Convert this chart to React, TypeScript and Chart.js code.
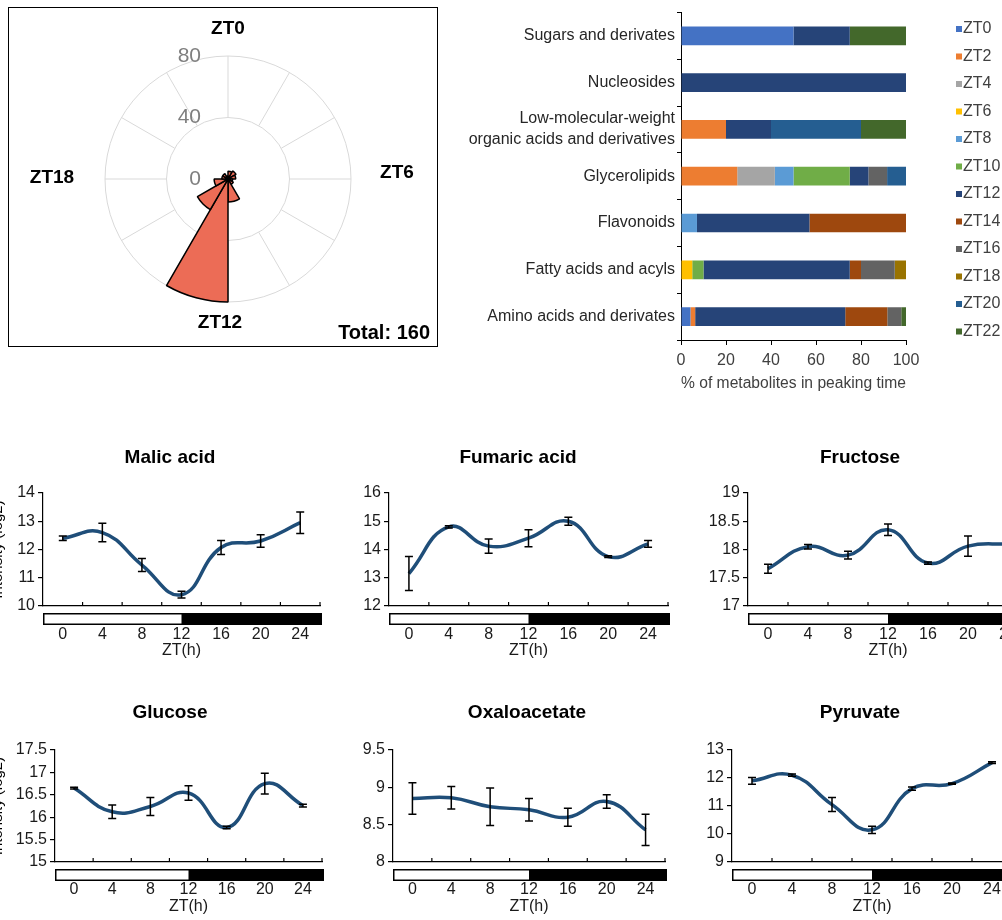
import React, { useEffect, useRef } from "react";
import { Chart, registerables } from "chart.js";

Chart.register(...registerables);

const FONT = "'Liberation Sans', Arial, Helvetica, sans-serif";

// ---------- Polar: number of metabolites peaking at each time ----------
const peakLabels = ["ZT0", "ZT2", "ZT4", "ZT6", "ZT8", "ZT10", "ZT12", "ZT14", "ZT16", "ZT18", "ZT20", "ZT22"];
const peakCounts = [5, 6, 5, 3, 4, 15, 80, 23, 9, 4, 4, 2];
const ringTicks = [0, 40, 80];
const compassLabels = ["ZT0", "ZT6", "ZT12", "ZT18"];
const totalLabel = "Total: 160";

// ---------- Stacked bars: % of metabolites per class in peaking time ----------
const classLabels: (string | string[])[] = [
  "Sugars and derivates",
  "Nucleosides",
  ["Low-molecular-weight", "organic acids and derivatives"],
  "Glycerolipids",
  "Flavonoids",
  "Fatty acids and acyls",
  "Amino acids and derivates",
];
const ztColors = ["#4472C4", "#ED7D31", "#A5A5A5", "#FFC000", "#5B9BD5", "#70AD47", "#264478", "#9E480E", "#636363", "#997300", "#255E91", "#43682B"];
const pctZT0 = [50, 0, 0, 0, 0, 0, 4.2];
const pctZT2 = [0, 0, 20, 25, 0, 0, 2.1];
const pctZT4 = [0, 0, 0, 16.7, 0, 0, 0];
const pctZT6 = [0, 0, 0, 0, 0, 5, 0];
const pctZT8 = [0, 0, 0, 8.3, 7.1, 0, 0];
const pctZT10 = [0, 0, 0, 25, 0, 5, 0];
const pctZT12 = [25, 100, 20, 8.3, 50, 65, 66.7];
const pctZT14 = [0, 0, 0, 0, 42.9, 5, 18.7];
const pctZT16 = [0, 0, 0, 8.3, 0, 15, 6.2];
const pctZT18 = [0, 0, 0, 0, 0, 5, 0];
const pctZT20 = [0, 0, 40, 8.4, 0, 0, 0];
const pctZT22 = [25, 0, 20, 0, 0, 0, 2.1];
const classPctSeries = [pctZT0, pctZT2, pctZT4, pctZT6, pctZT8, pctZT10, pctZT12, pctZT14, pctZT16, pctZT18, pctZT20, pctZT22];
const pctAxisTitle = "% of metabolites in peaking time";

// ---------- Time courses ----------
const ztHours = ["0", "4", "8", "12", "16", "20", "24"];
const malicMean = [12.4, 12.6, 11.45, 10.4, 12.07, 12.3, 12.95];
const malicErr = [0.08, 0.33, 0.23, 0.12, 0.25, 0.22, 0.38];
const fumaricMean = [13.15, 14.8, 14.12, 14.4, 15.0, 13.75, 14.2];
const fumaricErr = [0.6, 0.04, 0.25, 0.3, 0.14, 0.03, 0.12];
const fructoseMean = [17.66, 18.05, 17.9, 18.35, 17.76, 18.06, 18.1];
const fructoseErr = [0.08, 0.04, 0.07, 0.1, 0.02, 0.18, 0.05];
const glucoseMean = [16.65, 16.12, 16.24, 16.54, 15.77, 16.75, 16.26];
const glucoseErr = [0.02, 0.15, 0.2, 0.16, 0.03, 0.23, 0.03];
const oxaloMean = [8.85, 8.86, 8.74, 8.7, 8.6, 8.81, 8.43];
const oxaloErr = [0.21, 0.15, 0.25, 0.15, 0.12, 0.09, 0.21];
const pyruvateMean = [11.9, 12.1, 11.05, 10.15, 11.62, 11.8, 12.55];
const pyruvateErr = [0.12, 0.04, 0.25, 0.13, 0.06, 0.02, 0.03];
const intensityTitle = "Intensity (log2)";
const timeTitle = "ZT(h)";

type Panel = {
  title: string; mean: number[]; err: number[]; yMin: number; yMax: number; yStep: number;
  axisLeft: number; axisRight: number; plotTop: number; plotBottom: number;
  titleX: number; titleY: number; yW: number; yTitle: boolean; tickPad: number;
};

const panels: Panel[] = [
  { title: "Malic acid", mean: malicMean, err: malicErr, yMin: 10, yMax: 14, yStep: 1,
    axisLeft: 43, axisRight: 320, plotTop: 493, plotBottom: 606, titleX: 170, titleY: 458, yW: 57, yTitle: true, tickPad: 21 },
  { title: "Fumaric acid", mean: fumaricMean, err: fumaricErr, yMin: 12, yMax: 16, yStep: 1,
    axisLeft: 389, axisRight: 668, plotTop: 493, plotBottom: 606, titleX: 518, titleY: 458, yW: 40, yTitle: false, tickPad: 21 },
  { title: "Fructose", mean: fructoseMean, err: fructoseErr, yMin: 17, yMax: 19, yStep: 0.5,
    axisLeft: 748, axisRight: 1028, plotTop: 493, plotBottom: 606, titleX: 860, titleY: 458, yW: 44, yTitle: false, tickPad: 21 },
  { title: "Glucose", mean: glucoseMean, err: glucoseErr, yMin: 15, yMax: 17.5, yStep: 0.5,
    axisLeft: 55, axisRight: 322, plotTop: 750, plotBottom: 862, titleX: 170, titleY: 713, yW: 69, yTitle: true, tickPad: 20 },
  { title: "Oxaloacetate", mean: oxaloMean, err: oxaloErr, yMin: 8, yMax: 9.5, yStep: 0.5,
    axisLeft: 393, axisRight: 665, plotTop: 750, plotBottom: 862, titleX: 527, titleY: 713, yW: 40, yTitle: false, tickPad: 20 },
  { title: "Pyruvate", mean: pyruvateMean, err: pyruvateErr, yMin: 9, yMax: 13, yStep: 1,
    axisLeft: 732, axisRight: 1012, plotTop: 750, plotBottom: 862, titleX: 860, titleY: 713, yW: 30, yTitle: false, tickPad: 20 },
];

function ChartCanvas(props: { left: number; top: number; width: number; height: number; build: () => any }) {
  const ref = useRef<HTMLCanvasElement | null>(null);
  useEffect(() => {
    const chart = new Chart(ref.current as HTMLCanvasElement, props.build());
    return () => chart.destroy();
  }, []);
  return (
    <canvas
      ref={ref}
      width={props.width}
      height={props.height}
      style={{ position: "absolute", left: props.left, top: props.top, width: props.width, height: props.height }}
    />
  );
}

// ---------------- Polar ----------------
const POLAR_W = 428;
const POLAR_H = 338;

function buildPolar() {
  const decor = {
    id: "polarDecor",
    beforeDatasetsDraw(chart: any) {
      const s = chart.scales.r;
      const ctx = chart.ctx;
      const cx = s.xCenter, cy = s.yCenter;
      const r1 = s.getDistanceFromCenterForValue(ringTicks[1]);
      const r2 = s.getDistanceFromCenterForValue(ringTicks[2]);
      ctx.save();
      ctx.strokeStyle = "#d9d9d9";
      ctx.lineWidth = 1;
      for (let k = 0; k < peakLabels.length; k++) {
        const a = -Math.PI / 2 + (k * 2 * Math.PI) / peakLabels.length;
        ctx.beginPath();
        ctx.moveTo(cx + r1 * Math.cos(a), cy + r1 * Math.sin(a));
        ctx.lineTo(cx + r2 * Math.cos(a), cy + r2 * Math.sin(a));
        ctx.stroke();
      }
      ctx.restore();
    },
    afterDraw(chart: any) {
      const s = chart.scales.r;
      const ctx = chart.ctx;
      const cx = s.xCenter, cy = s.yCenter;
      ctx.save();
      ctx.font = `21px ${FONT}`;
      ctx.fillStyle = "#7f7f7f";
      ctx.textAlign = "right";
      ctx.textBaseline = "middle";
      ringTicks.forEach((v) => {
        const d = s.getDistanceFromCenterForValue(v);
        ctx.fillText(String(v), cx - 27, cy - d);
      });
      ctx.font = `bold 19px ${FONT}`;
      ctx.fillStyle = "#000";
      ctx.textAlign = "center";
      const offs = [[0, -150], [169, -6], [-8, 144], [-176, -1]];
      compassLabels.forEach((t, i) => ctx.fillText(t, cx + offs[i][0], cy + offs[i][1]));
      ctx.textAlign = "right";
      ctx.font = `bold 20px ${FONT}`;
      ctx.fillText(totalLabel, 421, 325);
      ctx.restore();
    },
  };
  return {
    type: "polarArea",
    data: {
      labels: peakLabels,
      datasets: [{ data: peakCounts, backgroundColor: "#EC6C56", borderColor: "#000", borderWidth: 1.5 }],
    },
    options: {
      responsive: false,
      animation: false,
      layout: { padding: { left: 96, top: 48, right: POLAR_W - 96 - 246, bottom: POLAR_H - 48 - 246 } },
      plugins: { legend: { display: false }, tooltip: { enabled: false } },
      scales: {
        r: {
          min: 0,
          max: 80,
          startAngle: 0,
          ticks: { display: false, stepSize: 40 },
          grid: { display: true, color: "#d9d9d9", lineWidth: 1, circular: true },
          angleLines: { display: false },
          pointLabels: { display: false },
        },
      },
    },
    plugins: [decor],
  };
}

// ---------------- Stacked bars ----------------
const BAR_LEFT = 462;
const BAR_W = 1002 - BAR_LEFT;
const BAR_H = 400;

function buildBars() {
  const legend = {
    id: "ztLegend",
    afterDraw(chart: any) {
      const ctx = chart.ctx;
      ctx.save();
      ctx.font = `16px ${FONT}`;
      ctx.textAlign = "left";
      ctx.textBaseline = "middle";
      peakLabels.forEach((name, i) => {
        const y = 29 + i * 27.5;
        ctx.fillStyle = ztColors[i];
        ctx.fillRect(956 - BAR_LEFT, y - 3, 6, 6);
        ctx.fillStyle = "#404040";
        ctx.fillText(name, 963 - BAR_LEFT, y);
      });
      ctx.restore();
    },
  };
  return {
    type: "bar",
    data: {
      labels: classLabels,
      datasets: peakLabels.map((name, i) => ({
        label: name,
        data: classPctSeries[i],
        backgroundColor: ztColors[i],
        borderWidth: 0,
        barPercentage: 0.4,
        categoryPercentage: 1,
      })),
    },
    options: {
      indexAxis: "y",
      responsive: false,
      animation: false,
      layout: { padding: { top: 4, right: 1002 - 906, left: 0, bottom: 0 } },
      plugins: { legend: { display: false }, tooltip: { enabled: false } },
      scales: {
        x: {
          stacked: true,
          min: 0,
          max: 100,
          ticks: { stepSize: 20, font: { family: FONT, size: 16 }, color: "#404040", padding: 6 },
          grid: { display: true, drawOnChartArea: false, tickLength: 5, color: "#000" },
          border: { display: true, color: "#000" },
          title: { display: true, text: pctAxisTitle, font: { family: FONT, size: 16 }, color: "#404040", padding: { top: 0, bottom: 7 } },
          afterFit: (s: any) => { s.height = 60; },
        },
        y: {
          stacked: true,
          ticks: { font: { family: FONT, size: 16, lineHeight: 1.3 }, color: "#262626", padding: 2 },
          grid: { display: true, drawOnChartArea: false, offset: true, tickLength: 4, color: "#000" },
          border: { display: true, color: "#000" },
          afterFit: (s: any) => { s.width = 681 - BAR_LEFT; },
        },
      },
    },
    plugins: [legend],
  };
}

// ---------------- Time-course panels ----------------
function panelGeom(p: Panel) {
  const canvasLeft = p.axisLeft - p.yW;
  const canvasRight = p.axisRight + 12;
  const canvasTop = p.titleY - 20;
  const height = p.plotBottom + 60 - canvasTop;
  return { canvasLeft, canvasTop, width: canvasRight - canvasLeft, height, padTop: p.plotTop - canvasTop };
}

function buildLine(p: Panel) {
  const g = panelGeom(p);
  const decor = {
    id: "lineDecor",
    afterDatasetsDraw(chart: any) {
      const ctx = chart.ctx;
      const xs = chart.scales.x, ys = chart.scales.y;
      ctx.save();
      ctx.strokeStyle = "#000";
      ctx.lineWidth = 1.5;
      p.mean.forEach((m, i) => {
        const e = p.err[i];
        const x = xs.getPixelForValue(i);
        const y1 = ys.getPixelForValue(m + e);
        const y2 = ys.getPixelForValue(m - e);
        ctx.beginPath();
        ctx.moveTo(x, y1); ctx.lineTo(x, y2);
        ctx.moveTo(x - 4, y1); ctx.lineTo(x + 4, y1);
        ctx.moveTo(x - 4, y2); ctx.lineTo(x + 4, y2);
        ctx.stroke();
      });
      ctx.restore();
    },
    afterDraw(chart: any) {
      const ctx = chart.ctx;
      const a = chart.chartArea;
      const xs = chart.scales.x;
      ctx.save();
      // upward tick marks between categories
      ctx.strokeStyle = "#000";
      ctx.lineWidth = 1.2;
      const n = ztHours.length;
      for (let k = 1; k <= n; k++) {
        const x = a.left + (k * (a.right - a.left)) / n;
        ctx.beginPath();
        ctx.moveTo(x, a.bottom);
        ctx.lineTo(x, a.bottom - 4);
        ctx.stroke();
      }
      // light/dark bar
      const top = a.bottom + 7;
      const h = 12;
      const mid = xs.getPixelForValue(3);
      ctx.fillStyle = "#000";
      ctx.fillRect(a.left, top, a.right + 2 - a.left, h);
      ctx.fillStyle = "#fff";
      ctx.fillRect(a.left + 1.5, top + 1.5, mid - a.left - 1.5, h - 3);
      // title
      ctx.fillStyle = "#000";
      ctx.font = `bold 19px ${FONT}`;
      ctx.textAlign = "center";
      ctx.textBaseline = "middle";
      ctx.fillText(p.title, p.titleX - g.canvasLeft, p.titleY - g.canvasTop);
      ctx.restore();
    },
  };
  return {
    type: "line",
    data: {
      labels: ztHours,
      datasets: [{
        data: p.mean,
        borderColor: "#1F4E79",
        borderWidth: 3.5,
        tension: 0.45,
        pointRadius: 0,
        fill: false,
        clip: false,
      }],
    },
    options: {
      responsive: false,
      animation: false,
      layout: { padding: { top: g.padTop, left: 0, right: 12, bottom: 0 } },
      plugins: { legend: { display: false }, tooltip: { enabled: false } },
      scales: {
        x: {
          type: "category",
          offset: true,
          grid: { display: false, drawTicks: false, tickLength: 0 },
          border: { display: true, color: "#000", width: 1.2 },
          ticks: { font: { family: FONT, size: 16, lineHeight: 1 }, color: "#1a1a1a", padding: p.tickPad, maxRotation: 0 },
          title: { display: true, text: timeTitle, font: { family: FONT, size: 16, lineHeight: 1 }, color: "#1a1a1a", padding: { top: 0, bottom: 7 } },
          afterFit: (s: any) => { s.height = 60; },
        },
        y: {
          min: p.yMin,
          max: p.yMax,
          ticks: {
            stepSize: p.yStep,
            font: { family: FONT, size: 16 },
            color: "#1a1a1a",
            padding: 3,
            callback: (v: any) => String(Math.round(Number(v) * 100) / 100),
          },
          grid: { display: true, drawOnChartArea: false, tickLength: 5, color: "#000", lineWidth: 1.2 },
          border: { display: true, color: "#000", width: 1.2 },
          title: { display: p.yTitle, text: intensityTitle, font: { family: FONT, size: 15 }, color: "#000", padding: { top: 3, bottom: 0 } },
          afterFit: (s: any) => { s.width = p.yW; },
        },
      },
    },
    plugins: [decor],
  };
}

export default function App() {
  return (
    <div style={{ position: "absolute", left: 0, top: 0, width: 1002, height: 920, overflow: "hidden", background: "#fff" }}>
      <div style={{ position: "absolute", left: 8, top: 7, width: POLAR_W + 2, height: POLAR_H + 2, border: "1px solid #000", boxSizing: "border-box" }}>
        <ChartCanvas left={0} top={0} width={POLAR_W} height={POLAR_H} build={buildPolar} />
      </div>
      <ChartCanvas left={BAR_LEFT} top={0} width={BAR_W} height={BAR_H} build={buildBars} />
      {panels.map((p) => {
        const g = panelGeom(p);
        return <ChartCanvas key={p.title} left={g.canvasLeft} top={g.canvasTop} width={g.width} height={g.height} build={() => buildLine(p)} />;
      })}
    </div>
  );
}
